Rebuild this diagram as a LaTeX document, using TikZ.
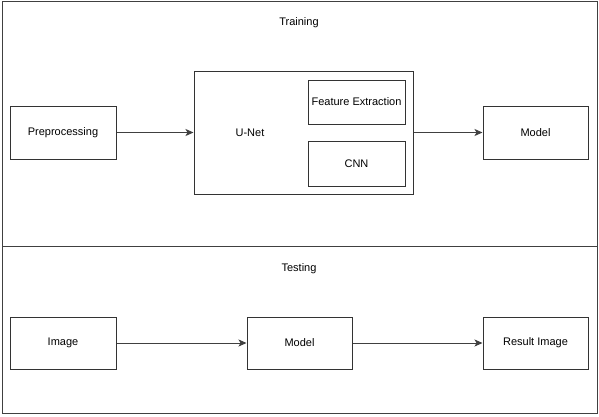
\documentclass[tikz,border=0pt]{standalone}
\usepackage{fontspec}
\setmainfont{Liberation Sans}
\usetikzlibrary{arrows.meta}
\begin{document}
\begin{tikzpicture}[x=1pt,y=-1pt,
  box/.style={draw=black!80,line width=1pt,fill=white,inner sep=0pt},
  frame/.style={draw=black!75,line width=1pt},
  lbl/.style={font=\fontsize{11}{13}\selectfont,inner sep=0pt},
  conn/.style={draw=black!75,line width=1pt,-{Stealth[length=8pt,width=7pt,inset=2pt]}}]
\useasboundingbox (0,0) rectangle (599,416);
\fill[white] (0,0) rectangle (599,416);
% outer frames
\draw[frame] (2,1) rectangle (597,246);
\draw[frame] (2,246) rectangle (597,413);
\node[lbl] (train) at (299,22.5) {Training};
\node[lbl] (test) at (299,268.5) {Testing};
% training row
\node[box,minimum width=106pt,minimum height=53pt,lbl] (pre) at (63,132.5) {Preprocessing};
\node[box,minimum width=219pt,minimum height=123pt] (unet) at (303.5,132.5) {};
\node[lbl] (unetl) at (250,132.5) {U-Net};
\node[box,minimum width=97pt,minimum height=44pt,lbl] (fe) at (356.5,102) {Feature Extraction};
\node[box,minimum width=97pt,minimum height=45pt,lbl] (cnn) at (356.5,163.5) {CNN};
\node[box,minimum width=105pt,minimum height=53pt,lbl] (model) at (535.5,132.5) {Model};
\draw[conn] (pre) -- (unet);
\draw[conn] (unet) -- (model);
% testing row
\node[box,minimum width=106pt,minimum height=52pt,lbl] (img) at (63,343) {Image};
\node[box,minimum width=105pt,minimum height=52pt,lbl] (model2) at (299.5,343) {Model};
\node[box,minimum width=105pt,minimum height=52pt,lbl] (res) at (535.5,343) {Result Image};
\draw[conn] (img) -- (model2);
\draw[conn] (model2) -- (res);
\end{tikzpicture}
\end{document}
